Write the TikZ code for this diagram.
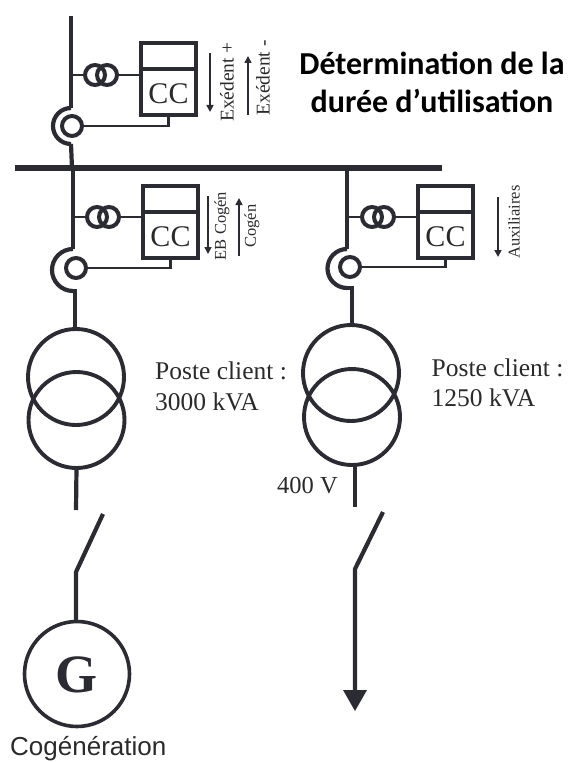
\documentclass[tikz,border=0pt]{standalone}
\usepackage{fontspec}
\setmainfont{Liberation Serif}
\newfontfamily\titlefont{Carlito}
\newfontfamily\labelfont{Liberation Sans}
\usetikzlibrary{arrows.meta}
\definecolor{ink}{HTML}{2B2B33}
\definecolor{txt}{HTML}{2A2A2A}
\tikzset{
  x=1pt,y=-1pt,
  wire/.style={draw=ink,line width=4.2pt},
  thin wire/.style={draw=ink,line width=2.2pt},
  ringnode/.style={circle,draw=ink,line width=4pt,inner sep=0pt,outer sep=0pt,minimum size=20pt},
  cogen/.style={circle,draw=ink,line width=3.6pt,inner sep=0pt,outer sep=0pt,minimum size=105pt},
  winding/.style={circle,draw=ink,line width=3.9pt,inner sep=0pt,outer sep=0pt,minimum size=96pt},
  meterbox/.style={draw=ink,line width=4.2pt,inner sep=0pt,outer sep=0pt,minimum width=55pt,minimum height=72pt},
  cctext/.style={text=txt,inner sep=0pt,font=\fontsize{30}{30}\selectfont},
  vtext/.style={text=txt,inner sep=0pt,rotate=90,anchor=center},
  flow/.style={draw=ink,line width=1.6pt,-{Triangle[length=7pt,width=7pt]}},
  body/.style={text=txt,inner sep=0pt,anchor=base west,font=\fontsize{25.5}{25.5}\selectfont},
}
% #1 id, #2 line x, #3 ct y, #4 box left, #5 box top, #6 ring x, #7 ring y, #8 arc radius, #9 arc top y
\newcommand{\meterunit}[9]{
  \node[ringnode] (#1ctA) at (#4-46,#3) {};
  \node[ringnode] (#1ctB) at (#4-34,#3) {};
  \node[meterbox,anchor=north west] (#1box) at (#4,#5) {};
  \coordinate (#1divL) at (#4,#5+26);
  \coordinate (#1divR) at (#4+55,#5+26);
  \draw[wire] (#1divL) -- (#1divR);
  \node[cctext] (#1cc) at (#4+27.5,#5+51) {CC};
  \node[ringnode] (#1ring) at (#6,#7) {};
  \coordinate (#1tap) at (#2,#3);
  \draw[thin wire] (#1tap) -- (#1ctA.west);
  \draw[thin wire] (#1ctB.east) -- (#1tap -| #1box.west);
  \coordinate (#1wire) at (#4+27.5,#7);
  \draw[thin wire] (#1ring.east) -- (#1wire) -- (#1box.south -| #1wire);
  \coordinate (#1arcT) at (#2,#9);
  \draw[wire] (#1arcT) arc[start angle=90,end angle=270,radius=#8pt] coordinate (#1arcB);
}
\begin{document}
\begin{tikzpicture}
\useasboundingbox (0,0) rectangle (572,762);
% top feeder
\coordinate (topEnd) at (71,16);
\meterunit{a}{71}{75}{141}{43}{72}{126}{18}{108}
\draw[wire] (topEnd) -- (aarcT);
% bus
\coordinate (busL) at (15,168);
\coordinate (busR) at (442,168);
\draw[draw=ink,line width=6pt] (busL) -- (busR);
\coordinate (busA) at (72,168);
\draw[wire] (aarcB) -- (busA);
% left branch
\coordinate (busB) at (73,168);
\meterunit{b}{73}{217}{143}{186}{76}{268}{21}{249}
\draw[wire] (busB) -- (barcT);
\node[winding] (tLa) at (76,377) {};
\node[winding] (tLb) at (76.5,420) {};
\coordinate (tLin) at (75,291);
\draw[wire] (barcB) -- (tLin) -- (tLa.north -| tLin);
\coordinate (swLa) at (76,510);
\draw[wire] (tLb.south) -- (swLa);
\coordinate (bladeLa) at (103,514);
\coordinate (bladeLb) at (76,572);
\node[cogen] (gen) at (77,674) {};
\draw[wire,line join=round] (bladeLa) -- (bladeLb) -- (gen.north -| bladeLb);
\node[inner sep=0pt,text=ink,font=\fontsize{54}{54}\selectfont\bfseries] (genG) at (77,675) {G};
% right branch
\coordinate (busC) at (347,168);
\meterunit{c}{347}{217}{418}{186}{350}{267}{19.5}{249}
\draw[wire] (busC) -- (carcT);
\node[winding] (tRa) at (351,373) {};
\node[winding] (tRb) at (352,417) {};
\coordinate (tRin) at (352,288);
\draw[wire] (carcB) -- (tRin) -- (tRa.north -| tRin);
\coordinate (swRa) at (355,507);
\draw[wire] (tRb.south -| swRa) -- (swRa);
\coordinate (bladeRa) at (383,512);
\coordinate (bladeRb) at (355,569);
\node[fill=ink,inner sep=0pt,minimum size=0pt] (loadtip) at (355,711) {};
\coordinate (loadbase) at (355,692);
\draw[wire,line join=round] (bladeRa) -- (bladeRb) -- (loadbase);
\fill[ink] (343,690) -- (367,690) -- (loadtip.center) -- cycle;
% flow arrows
\coordinate (fA1s) at (210,53); \coordinate (fA1e) at (210,112);
\coordinate (fA2s) at (248,115); \coordinate (fA2e) at (248,56);
\coordinate (fB1s) at (208,196); \coordinate (fB1e) at (208,254);
\coordinate (fB2s) at (239,256); \coordinate (fB2e) at (239,198);
\coordinate (fC1s) at (498,197); \coordinate (fC1e) at (498,257);
\draw[flow] (fA1s) -- (fA1e);
\draw[flow] (fA2s) -- (fA2e);
\draw[flow] (fB1s) -- (fB1e);
\draw[flow] (fB2s) -- (fB2e);
\draw[flow] (fC1s) -- (fC1e);
% rotated labels
\node[vtext,font=\fontsize{19.5}{20}\selectfont] (lExP) at (227,82) {Exédent +};
\node[vtext,font=\fontsize{19.5}{20}\selectfont] (lExM) at (263,78) {Exédent -};
\node[vtext,font=\fontsize{16.5}{17}\selectfont] (lEB) at (222,226) {EB Cogén};
\node[vtext,font=\fontsize{16.5}{17}\selectfont] (lCog) at (252,226) {Cogén};
\node[vtext,font=\fontsize{16.5}{17}\selectfont] (lAux) at (514,222) {Auxiliaires};
% text
\node[body] (p1a) at (155,379) {Poste client :};
\node[body] (p1b) at (155,410) {3000 kVA};
\node[body] (p2a) at (431.5,376) {Poste client :};
\node[body] (p2b) at (431.5,406) {1250 kVA};
\node[body,font=\fontsize{24.5}{24.5}\selectfont] (v400) at (277,493) {400 V};
\node[inner sep=0pt,anchor=base,text=black,font=\titlefont\bfseries\fontsize{32}{32}\selectfont] (title1) at (432,75) {Détermination de la};
\node[inner sep=0pt,anchor=base,text=black,font=\titlefont\bfseries\fontsize{32}{32}\selectfont] (title2) at (432,113) {durée d’utilisation};
\node[inner sep=0pt,anchor=base west,text=txt,font=\labelfont\fontsize{26}{26}\selectfont] (cogen) at (10,755.5) {Cogénération};
\end{tikzpicture}
\end{document}
